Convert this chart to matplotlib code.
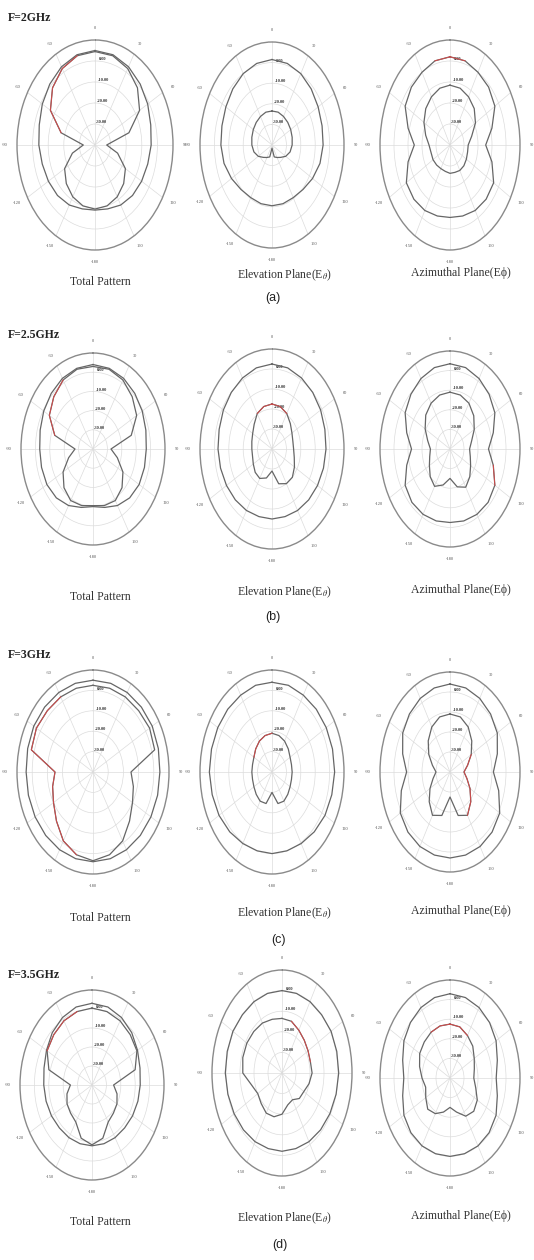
import numpy as np
import matplotlib
matplotlib.use("Agg")
import matplotlib.pyplot as plt

plt.rcParams['font.family'] = ['Liberation Serif', 'DejaVu Serif']
plt.rcParams['mathtext.fontset'] = 'stix'

# pattern samples every 15 deg (0 = top, clockwise), gain in dB
angles_deg = np.arange(0, 360, 15)

# F = 2 GHz
a1_outer = [5, 4.5, 3, 1, -1, -3, -4, -5, -5.5, -6, -7, -8.5, -9, -8.5, -7, -6, -5.5, -5, -4, -3, -1, 1, 3, 4.5]
a1_inner = [4.5, 4, 2, -1.5, -7, -17.5, -32.5, -25, -17.5, -14, -11.5, -10, -9.5, -10, -11.5, -14, -17.5, -25, -32.5, -17.5, -7, -1.5, 2, 4]
a2_outer = [1.5, 1, 0, -1.5, -3, -4, -4.5, -5.5, -7.5, -9.5, -10.5, -10.5, -10.5, -10.5, -10.5, -9.5, -7.5, -5.5, -4.5, -4, -3, -1.5, 0, 1]
a2_inner = [-23.5, -23.5, -24, -24.5, -25, -25.5, -26, -27, -29, -31.5, -33, -34, -38.5, -34, -33, -31.5, -29, -27, -26, -25.5, -25, -24.5, -24, -23.5]
a3_outer = [2, 1.5, 0, -1, -3, -9, -14.5, -9, -4, -3.5, -4, -5, -5.5, -5, -4, -3.5, -4, -9, -14.5, -9, -3, -1, 0, 1.5]
a3_inner = [-11.5, -12, -13.5, -15.5, -19, -24, -27, -27, -26.5, -26, -26, -26.5, -26.5, -27, -27, -26.5, -26, -26, -25, -22, -18.5, -15.5, -13.5, -12]

# F = 2.5 GHz
b1_outer = [4, 3.5, 2.5, 1, -0.5, -2, -3, -3, -3, -4, -6, -8.5, -10, -8.5, -6, -4, -3, -3, -3, -2, -0.5, 1, 2.5, 3.5]
b1_inner = [3, 3, 1.5, -1.5, -5, -12.5, -27.5, -22.5, -16, -11.5, -9, -9.5, -10.5, -9.5, -9, -11.5, -16, -22.5, -27.5, -12.5, -5, -1.5, 1.5, 3]
b2_outer = [2.5, 2, 1, 0, -1, -2, -2.5, -3, -3.5, -4, -4.5, -5, -5, -5, -4.5, -4, -3.5, -3, -2.5, -2, -1, 0, 1, 2]
b2_inner = [-17.5, -18, -19.5, -22, -24, -25, -25, -24, -22, -20, -20, -22, -29, -25, -23, -23.5, -25, -26, -26, -25.5, -24.5, -22.5, -19.5, -18]
b3_outer = [3.5, 3, 1.5, -0.5, -3, -8, -12.5, -8, -3, -1.5, -1.5, -2, -2.5, -2, -1.5, -1.5, -3, -8, -12.5, -8, -3, -0.5, 1.5, 3]
b3_inner = [-11, -11.5, -13, -16, -20, -24, -26, -25, -23, -20, -17.5, -20, -25, -21, -18, -20, -23, -25, -26, -23.5, -19.5, -15.5, -13, -11.5]

# F = 3 GHz
c1_outer = [5, 5, 5, 5, 5, 4.5, 4, 4, 4, 4, 4, 4, 4, 4, 4, 4, 4, 4, 4, 4.5, 5, 5, 5, 5]
c1_inner = [2.5, 2.5, 2.5, 2.5, 3, 2, -15, -12.5, -10, -6, -1, 2, 3.5, 2, -1, -6, -10, -12.5, -15, 2, 3, 2.5, 2.5, 2.5]
c2_outer = [4, 4, 3.5, 3.5, 3.5, 3.5, 3.5, 3, 2.5, 1.5, 0.5, 0, 0, 0, 0.5, 1.5, 2.5, 3, 3.5, 3.5, 3.5, 3.5, 3.5, 4]
c2_inner = [-21, -21.5, -22.5, -24, -25.5, -26, -26, -26, -25.5, -24.5, -23.5, -24, -30, -24, -23.5, -24.5, -25.5, -26, -26, -26, -25.5, -24, -22.5, -21.5]
c3_outer = [4, 3.5, 2.5, 1, -1, -5, -9, -4, 1, 2.5, 3, 3, 3, 3, 3, 2.5, 1, -4, -9, -5, -1, 1, 2.5, 3.5]
c3_inner = [-11, -11.5, -14, -18, -22.5, -27, -30, -27.5, -23.5, -19, -15, -17.5, -27.5, -17.5, -15, -19, -23.5, -27.5, -30, -27, -22.5, -18, -14, -11.5]

# F = 3.5 GHz
d1_outer = [3, 2.5, 1, -1, -3.5, -5.5, -6.5, -7, -7.5, -8, -8, -8, -8, -8, -8, -8, -7.5, -7, -6.5, -5.5, -3.5, -1, 1, 2.5]
d1_inner = [0.5, 0, -1, -2.5, -4, -9, -25, -22, -20, -19, -17.5, -11, -8.5, -11, -17.5, -19, -20, -22, -25, -9, -4, -2.5, -1, 0]
d2_outer = [0, 0, 0, 0, 0.5, 0.5, 0.5, 0, -0.5, -1, -1.5, -2, -2, -2, -1.5, -1, -0.5, 0, 0.5, 0.5, 0.5, 0, 0, 0]
d2_inner = [-13.5, -14, -16, -17.5, -18.5, -19, -18.5, -20, -22, -22.5, -25, -24, -20, -18, -17.5, -19, -20, -17.5, -12, -11, -11, -11.5, -12, -13]
d3_outer = [3, 2.5, 1.5, 0, -2, -5, -7, -5, -2, -0.5, 0, 0, 0, 0, 0, -0.5, -2, -5, -7, -5, -2, 0, 1.5, 2.5]
d3_inner = [-12.5, -13, -15, -17, -20, -22, -23, -21, -17.5, -16, -17.5, -22, -25, -22, -19, -17.5, -20, -22, -20, -17.5, -15, -14, -13, -12.5]

theta_labels = ['0', '30', '60', '90', '120', '150', '-180', '-150', '-120', '-90', '-60', '-30']
r_ticks = [-30, -20, -10, 0]
r_labels = ['-30.00', '-20.00', '-10.00', '0.00']

freq_titles = ['F=2GHz', 'F=2.5GHz', 'F=3GHz', 'F=3.5GHz']
sub_labels = ['(a)', '(b)', '(c)', '(d)']
plane_names = ['Total Pattern', 'Elevation Plane(E$_{\\theta}$)', 'Azimuthal Plane(E\u03d5)']

DARK = '#666666'
RED = '#d24a4a'
W, H = 534, 1260

fig = plt.figure(figsize=(W / 100, H / 100), dpi=100)


def in_range(a, lo, hi):
    if lo <= hi:
        return (a >= lo) & (a <= hi)
    return (a >= lo) | (a <= hi)


def panel(cx, cy, hw, hh, outer, inner, red_in=(), red_out=()):
    ax = fig.add_axes([(cx - hw) / W, 1 - (cy + hh) / H, 2 * hw / W, 2 * hh / H],
                      projection='polar')
    ax.set_aspect('auto')
    ax.set_theta_zero_location('N')
    ax.set_theta_direction(-1)
    deg = np.append(angles_deg, 360)
    th = np.deg2rad(deg)
    out_c = np.append(outer, outer[0]).astype(float)
    in_c = np.append(inner, inner[0]).astype(float)
    ax.plot(th, out_c, color=DARK, lw=0.9)
    ax.plot(th, in_c, color=DARK, lw=0.9)
    for lo, hi in red_in:
        ax.plot(th, np.where(in_range(deg, lo, hi), in_c, np.nan), color=RED, lw=0.7)
    for lo, hi in red_out:
        ax.plot(th, np.where(in_range(deg, lo, hi), out_c, np.nan), color=RED, lw=0.7)
    ax.set_ylim(-40, 10)
    ax.set_xticks(np.deg2rad(np.arange(0, 360, 30)))
    ax.set_xticklabels(theta_labels, fontsize=3.2, color='#555')
    ax.set_xticks(np.deg2rad(np.arange(0, 360, 10)), minor=True)
    ax.tick_params(axis='x', which='both', direction='inout', length=3, width=0.5,
                   color='#777', pad=0)
    ax.set_yticks(r_ticks)
    ax.set_yticklabels(r_labels, fontsize=3.2, color='#333', fontweight='bold')
    ax.set_rlabel_position(4)
    ax.grid(color='#dcdcdc', lw=0.5)
    ax.spines['polar'].set_color('#8a8a8a')
    ax.spines['polar'].set_linewidth(1.0)
    ax.spines['polar'].set_linestyle((0, (2.5, 1)))
    return ax


# panel geometry in pixels: centre x, centre y, half width, half height
rows = [
    dict(title_y=18, lab_y=(282, 275, 273), sub=(273, 298),
         geo=[(95, 145, 78, 105), (272, 145, 72, 103), (450, 145, 70, 105)],
         data=[(a1_outer, a1_inner, [(285, 345)], []),
               (a2_outer, a2_inner, [], [(350, 10)]),
               (a3_outer, a3_inner, [], [(345, 15)])]),
    dict(title_y=335, lab_y=(597, 592, 590), sub=(273, 617),
         geo=[(93, 449, 72, 96), (272, 449, 72, 100), (450, 449, 70, 98)],
         data=[(b1_outer, b1_inner, [(285, 330)], []),
               (b2_outer, b2_inner, [(330, 30)], []),
               (b3_outer, b3_inner, [], [(100, 130)])]),
    dict(title_y=655, lab_y=(918, 913, 911), sub=(278, 940),
         geo=[(93, 772, 76, 102), (272, 772, 72, 102), (450, 772, 70, 100)],
         data=[(c1_outer, c1_inner, [(195, 340)], []),
               (c2_outer, c2_inner, [(300, 360)], []),
               (c3_outer, c3_inner, [(60, 150)], [])]),
    dict(title_y=975, lab_y=(1222, 1218, 1216), sub=(280, 1245),
         geo=[(92, 1085, 72, 95), (282, 1073, 70, 103), (450, 1078, 70, 98)],
         data=[(d1_outer, d1_inner, [(300, 345)], []),
               (d2_outer, d2_inner, [(15, 75)], []),
               (d3_outer, d3_inner, [(330, 30)], [])]),
]

label_x = [100, 285, 461]

for i, row in enumerate(rows):
    fig.text(8 / W, 1 - row['title_y'] / H, freq_titles[i], ha='left', va='center',
             fontsize=8.5, fontweight='bold', color='#222')
    for j in range(3):
        cx, cy, hw, hh = row['geo'][j]
        outer, inner, red_in, red_out = row['data'][j]
        panel(cx, cy, hw, hh, outer, inner, red_in, red_out)
        fig.text(label_x[j] / W, 1 - row['lab_y'][j] / H, plane_names[j],
                 ha='center', va='center', fontsize=8.5, color='#333')
    sx, sy = row['sub']
    fig.text(sx / W, 1 - sy / H, sub_labels[i], ha='center', va='center',
             fontsize=9, family=['Liberation Sans', 'DejaVu Sans'], color='#222')

fig.savefig('out.png', dpi=100, facecolor='white')
